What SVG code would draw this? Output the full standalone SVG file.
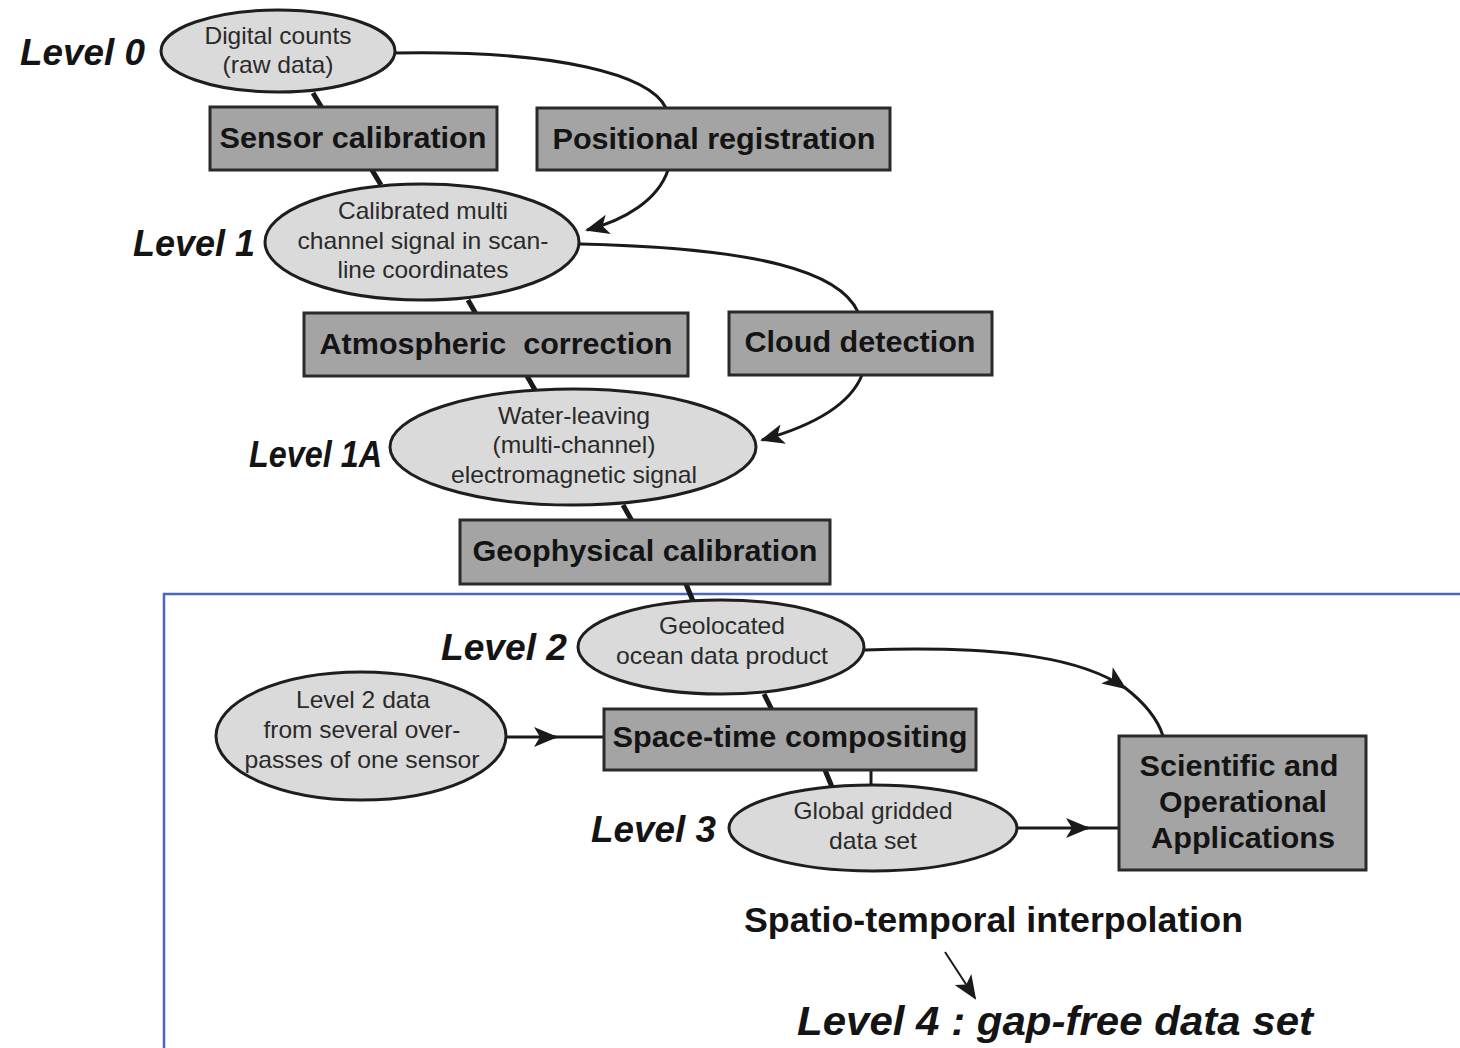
<svg xmlns="http://www.w3.org/2000/svg" width="1460" height="1048" viewBox="0 0 1460 1048">
<style>
.ell{fill:#dadada;stroke:#1e1e1e;stroke-width:3}
.box{fill:#a4a4a4;stroke:#2a2a2a;stroke-width:3}
.et{font-family:"Liberation Sans",Arial,sans-serif;font-size:24px;fill:#2a2a2a;text-anchor:middle}
.bt{font-family:"Liberation Sans",Arial,sans-serif;font-size:30px;font-weight:bold;fill:#141414;text-anchor:middle;white-space:pre}
.lv{font-family:"Liberation Sans",Arial,sans-serif;font-size:37px;font-weight:bold;font-style:italic;fill:#141414}
.con{fill:none;stroke:#1a1a1a;stroke-width:3}
.stub{stroke:#1a1a1a;stroke-width:5}
</style>
<defs>
<marker id="ah" viewBox="0 0 24 20" refX="22" refY="10" markerWidth="24" markerHeight="20" markerUnits="userSpaceOnUse" orient="auto">
<path d="M0,0 L24,10 L0,20 L6,10 Z" fill="#1a1a1a"/>
</marker>
</defs>
<rect width="1460" height="1048" fill="#ffffff"/>
<g id="frame">
<path d="M1460,594 H164 V1048" fill="none" stroke="#4a66c4" stroke-width="2.5"/>
</g>
<g id="connectors">
<line class="stub" x1="313" y1="93" x2="322" y2="108"/>
<line class="stub" x1="372" y1="170" x2="381" y2="185"/>
<path class="con" d="M395,53 C560,50 650,75 666,108"/>
<path class="con" d="M668,170 C658,200 625,220 587,230" marker-end="url(#ah)"/>
<path class="con" d="M580,244 C760,248 840,272 858,312"/>
<line class="stub" x1="468" y1="300" x2="476" y2="314"/>
<line class="stub" x1="527" y1="376" x2="535" y2="390"/>
<path class="con" d="M862,375 C850,405 812,426 762,440" marker-end="url(#ah)"/>
<line class="stub" x1="623" y1="505" x2="632" y2="521"/>
<line class="stub" x1="686" y1="584" x2="693" y2="601"/>
<line class="stub" x1="764" y1="694" x2="772" y2="710"/>
<path class="con" d="M865,650 C1010,645 1085,660 1125,688" marker-end="url(#ah)"/>
<path class="con" d="M1124,687 C1145,703 1158,720 1163,736"/>
<line class="con" x1="507" y1="737" x2="556" y2="737" marker-end="url(#ah)"/>
<line class="con" x1="550" y1="737" x2="604" y2="737"/>
<line class="stub" x1="825" y1="770" x2="832" y2="787"/>
<line class="con" x1="871" y1="770" x2="871" y2="786"/>
<line class="con" x1="1017" y1="828" x2="1088" y2="828" marker-end="url(#ah)"/>
<line class="con" x1="1082" y1="828" x2="1119" y2="828"/>
<line x1="945" y1="952" x2="975" y2="998" stroke="#1a1a1a" stroke-width="2" marker-end="url(#ah)"/>
</g>
<g id="level0">
<ellipse class="ell" cx="278" cy="51" rx="117" ry="41"/>
<text class="et" x="278" y="44" textLength="147" lengthAdjust="spacingAndGlyphs">Digital counts</text>
<text class="et" x="278" y="73" textLength="111" lengthAdjust="spacingAndGlyphs">(raw data)</text>
<text class="lv" x="20" y="65" textLength="125" lengthAdjust="spacingAndGlyphs">Level 0</text>
</g>
<g id="sensor-calibration">
<rect class="box" x="210" y="107" width="287" height="63"/>
<text class="bt" x="353" y="148" textLength="267" lengthAdjust="spacingAndGlyphs">Sensor calibration</text>
</g>
<g id="positional-registration">
<rect class="box" x="537" y="108" width="353" height="62"/>
<text class="bt" x="714" y="149" textLength="323" lengthAdjust="spacingAndGlyphs">Positional registration</text>
</g>
<g id="level1">
<ellipse class="ell" cx="422" cy="242" rx="157" ry="58"/>
<text class="et" x="423" y="219" textLength="170" lengthAdjust="spacingAndGlyphs">Calibrated multi</text>
<text class="et" x="423" y="249" textLength="251" lengthAdjust="spacingAndGlyphs">channel signal in scan-</text>
<text class="et" x="423" y="278" textLength="171" lengthAdjust="spacingAndGlyphs">line coordinates</text>
<text class="lv" x="133" y="256" textLength="122" lengthAdjust="spacingAndGlyphs">Level 1</text>
</g>
<g id="atmospheric-correction">
<rect class="box" x="304" y="313" width="384" height="63"/>
<text class="bt" x="496" y="354" textLength="353" lengthAdjust="spacingAndGlyphs">Atmospheric  correction</text>
</g>
<g id="cloud-detection">
<rect class="box" x="729" y="312" width="263" height="63"/>
<text class="bt" x="860" y="352" textLength="231" lengthAdjust="spacingAndGlyphs">Cloud detection</text>
</g>
<g id="level1a">
<ellipse class="ell" cx="573" cy="447" rx="183" ry="58"/>
<text class="et" x="574" y="424" textLength="152" lengthAdjust="spacingAndGlyphs">Water-leaving</text>
<text class="et" x="574" y="453" textLength="163" lengthAdjust="spacingAndGlyphs">(multi-channel)</text>
<text class="et" x="574" y="483" textLength="246" lengthAdjust="spacingAndGlyphs">electromagnetic signal</text>
<text class="lv" x="249" y="467" textLength="133" lengthAdjust="spacingAndGlyphs">Level 1A</text>
</g>
<g id="geophysical-calibration">
<rect class="box" x="460" y="520" width="370" height="64"/>
<text class="bt" x="645" y="561" textLength="345" lengthAdjust="spacingAndGlyphs">Geophysical calibration</text>
</g>
<g id="level2">
<ellipse class="ell" cx="721" cy="647" rx="143" ry="47"/>
<text class="et" x="722" y="634" textLength="126" lengthAdjust="spacingAndGlyphs">Geolocated</text>
<text class="et" x="722" y="664" textLength="212" lengthAdjust="spacingAndGlyphs">ocean data product</text>
<text class="lv" x="441" y="660" textLength="126" lengthAdjust="spacingAndGlyphs">Level 2</text>
</g>
<g id="level2-data">
<ellipse class="ell" cx="361" cy="736" rx="145" ry="64"/>
<text class="et" x="363" y="708" textLength="134" lengthAdjust="spacingAndGlyphs">Level 2 data</text>
<text class="et" x="362" y="738" textLength="197" lengthAdjust="spacingAndGlyphs">from several over-</text>
<text class="et" x="362" y="768" textLength="235" lengthAdjust="spacingAndGlyphs">passes of one sensor</text>
</g>
<g id="space-time-compositing">
<rect class="box" x="604" y="709" width="372" height="61"/>
<text class="bt" x="790" y="747" textLength="355" lengthAdjust="spacingAndGlyphs">Space-time compositing</text>
</g>
<g id="level3">
<ellipse class="ell" cx="873" cy="828" rx="144" ry="43"/>
<text class="et" x="873" y="819" textLength="159" lengthAdjust="spacingAndGlyphs">Global gridded</text>
<text class="et" x="873" y="849" textLength="88" lengthAdjust="spacingAndGlyphs">data set</text>
<text class="lv" x="591" y="842" textLength="125" lengthAdjust="spacingAndGlyphs">Level 3</text>
</g>
<g id="applications">
<rect class="box" x="1119" y="736" width="247" height="134"/>
<text class="bt" x="1239" y="776" textLength="199" lengthAdjust="spacingAndGlyphs">Scientific and</text>
<text class="bt" x="1243" y="812" textLength="168" lengthAdjust="spacingAndGlyphs">Operational</text>
<text class="bt" x="1243" y="848" textLength="184" lengthAdjust="spacingAndGlyphs">Applications</text>
</g>
<g id="interpolation">
<text x="744" y="932" font-family="'Liberation Sans',Arial,sans-serif" font-size="35" font-weight="bold" fill="#141414" textLength="499" lengthAdjust="spacingAndGlyphs">Spatio-temporal interpolation</text>
</g>
<g id="level4">
<text x="797" y="1035" font-family="'Liberation Sans',Arial,sans-serif" font-size="41" font-weight="bold" font-style="italic" fill="#141414" textLength="516" lengthAdjust="spacingAndGlyphs">Level 4 : gap-free data set</text>
</g>
</svg>
